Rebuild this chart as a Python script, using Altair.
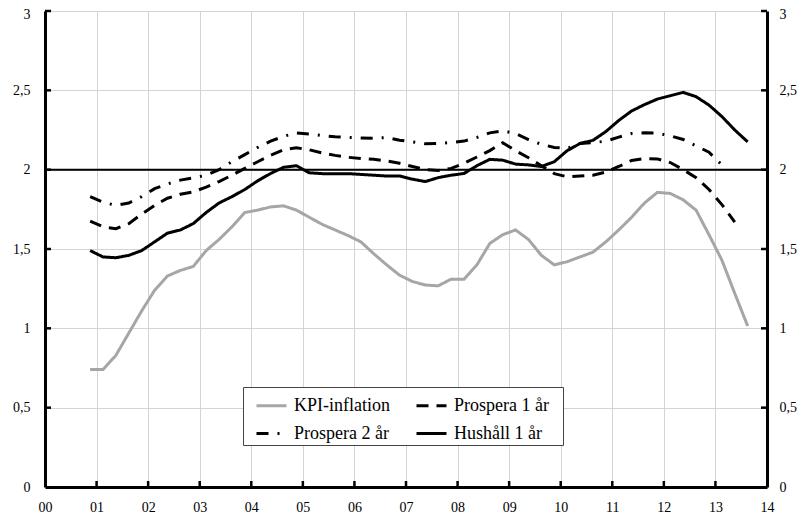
import altair as alt
import pandas as pd

# time axis: quarterly observations, expressed as years after 2000
t_pos = [0.875 + 0.25 * i for i in range(52)]

kpi = [0.74, 0.74, 0.83, 0.97, 1.11, 1.24, 1.33, 1.365, 1.39, 1.49, 1.56, 1.64, 1.73, 1.745,
       1.765, 1.772, 1.745, 1.70, 1.655, 1.62, 1.585, 1.545, 1.47, 1.40, 1.335, 1.295, 1.273,
       1.268, 1.31, 1.31, 1.40, 1.535, 1.59, 1.62, 1.56, 1.46, 1.40, 1.42, 1.45, 1.48, 1.545,
       1.62, 1.70, 1.79, 1.857, 1.85, 1.81, 1.745, 1.59, 1.43, 1.22, 1.015]

hushall = [1.49, 1.45, 1.445, 1.46, 1.49, 1.545, 1.60, 1.62, 1.66, 1.73, 1.79, 1.83, 1.875, 1.93,
           1.976, 2.015, 2.025, 1.98, 1.975, 1.975, 1.975, 1.97, 1.965, 1.96, 1.96, 1.94, 1.925,
           1.95, 1.965, 1.976, 2.025, 2.065, 2.06, 2.035, 2.03, 2.02, 2.05, 2.12, 2.165, 2.185,
           2.24, 2.31, 2.37, 2.41, 2.445, 2.466, 2.487, 2.46, 2.407, 2.335, 2.25, 2.175]

prospera1 = [1.676, 1.64, 1.628, 1.66, 1.72, 1.775, 1.82, 1.845, 1.86, 1.89, 1.925, 1.965, 2.008,
             2.05, 2.09, 2.125, 2.138, 2.125, 2.105, 2.09, 2.078, 2.07, 2.065, 2.055, 2.04, 2.02,
             2.0, 1.995, 2.008, 2.04, 2.08, 2.12, 2.17, 2.12, 2.075, 2.025, 1.975, 1.955, 1.96,
             1.965, 1.985, 2.02, 2.058, 2.07, 2.068, 2.045, 2.0, 1.95, 1.875, 1.78, 1.67, None]

prospera2 = [1.83, 1.795, 1.775, 1.79, 1.83, 1.88, 1.91, 1.934, 1.948, 1.965, 2.00, 2.05, 2.095,
             2.14, 2.18, 2.21, 2.232, 2.225, 2.215, 2.207, 2.203, 2.2, 2.198, 2.203, 2.186, 2.175,
             2.163, 2.165, 2.172, 2.18, 2.203, 2.232, 2.245, 2.228, 2.19, 2.16, 2.14, 2.134, 2.165,
             2.17, 2.18, 2.205, 2.228, 2.232, 2.23, 2.213, 2.19, 2.15, 2.11, 2.03, None, None]

# legend fills column by column: KPI / Prospera 2 år | Prospera 1 år / Hushåll 1 år
series_names = ["KPI-inflation", "Prospera 2 år", "Prospera 1 år", "Hushåll 1 år"]
series_vals = [kpi, prospera2, prospera1, hushall]
series_colors = ["#a6a6a6", "black", "black", "black"]
series_dash = [[1, 0], [12, 9, 2, 9], [12, 8], [1, 0]]

year_ticks = list(range(15))
y_ticks = [0, 0.5, 1, 1.5, 2, 2.5, 3]
target = [2.0]

rows = []
for name, vals in zip(series_names, series_vals):
    for t, v in zip(t_pos, vals):
        if v is not None:
            rows.append({"t": t, "v": v, "serie": name})
df = pd.DataFrame(rows)

W, H = 722, 476
FONT = "'Liberation Serif', 'Times New Roman', Times, serif"

xscale = alt.Scale(domain=[0, 14], nice=False, zero=False)
yscale = alt.Scale(domain=[0, 3], nice=False)

xaxis = alt.Axis(values=year_ticks, title=None, grid=True, gridColor="#d4d4d4", gridWidth=1,
                 ticks=False, tickSize=0, domainColor="black", domainWidth=3,
                 labelFont=FONT, labelFontSize=14, labelColor="black", labelPadding=13,
                 labelFlush=False, labelOverlap=False,
                 labelExpr="datum.value < 10 ? '0' + datum.value : '' + datum.value")

lab_off = {"condition": {"test": "datum.value == 3", "value": 3}, "value": 0}
ylab = "replace(toString(datum.value), '.', ',')"

yaxis_left = alt.Axis(values=y_ticks, title=None, orient="left", grid=True, gridColor="#d4d4d4",
                      gridWidth=1, ticks=False, tickSize=0, domainColor="black", domainWidth=3,
                      labelFont=FONT, labelFontSize=14, labelColor="black", labelPadding=15,
                      labelFlush=False, labelOverlap=False, labelExpr=ylab, labelOffset=lab_off)
yaxis_right = alt.Axis(values=y_ticks, title=None, orient="right", grid=False,
                       ticks=False, tickSize=0, domainColor="black", domainWidth=3,
                       labelFont=FONT, labelFontSize=14, labelColor="black", labelPadding=12,
                       labelFlush=False, labelOverlap=False, labelExpr=ylab, labelOffset=lab_off)

leg = alt.Legend(title=" ", titleOrient="right", titlePadding=12, orient="none",
                 legendX=198, legendY=376, columns=2,
                 symbolType="stroke", symbolSize=900, symbolStrokeWidth=3, symbolOffset=10,
                 labelFont=FONT, labelFontSize=18, labelColor="black", labelOffset=6,
                 fillColor="white", strokeColor="#444", padding=2, columnPadding=15,
                 rowPadding=2, labelLimit=0)

lines = alt.Chart(df).mark_line(strokeWidth=3).encode(
    x=alt.X("t:Q", scale=xscale, axis=xaxis),
    y=alt.Y("v:Q", scale=yscale, axis=yaxis_left),
    color=alt.Color("serie:N", scale=alt.Scale(domain=series_names, range=series_colors),
                    legend=leg, sort=series_names),
    strokeDash=alt.StrokeDash("serie:N", scale=alt.Scale(domain=series_names, range=series_dash),
                              legend=leg, sort=series_names),
    order=alt.Order("t:Q"),
)

target_line = alt.Chart(pd.DataFrame({"v": target})).mark_rule(color="black", strokeWidth=2).encode(
    y=alt.Y("v:Q", scale=yscale, axis=yaxis_right)
)

xt = alt.Chart(pd.DataFrame({"t": year_ticks[1:-1]})).mark_rule(color="black", strokeWidth=2.5).encode(
    x=alt.X("t:Q", scale=xscale, axis=xaxis), y=alt.value(H), y2=alt.value(H - 6)
)
ytl = alt.Chart(pd.DataFrame({"v": y_ticks[1:]})).mark_rule(color="black", strokeWidth=2.5).encode(
    y=alt.Y("v:Q", scale=yscale, axis=None), x=alt.value(0), x2=alt.value(6)
)
ytr = alt.Chart(pd.DataFrame({"v": y_ticks[1:]})).mark_rule(color="black", strokeWidth=2.5).encode(
    y=alt.Y("v:Q", scale=yscale, axis=None), x=alt.value(W), x2=alt.value(W - 6)
)

chart = alt.layer(target_line, lines, xt, ytl, ytr).resolve_axis(y="independent").properties(
    width=W, height=H,
    autosize=alt.AutoSizeParams(type="none"),
    padding={"left": 37, "top": 3, "right": 30, "bottom": 26},
).configure_view(stroke=None)

chart.save("out.html", embed_options={"renderer": "svg", "actions": False})
